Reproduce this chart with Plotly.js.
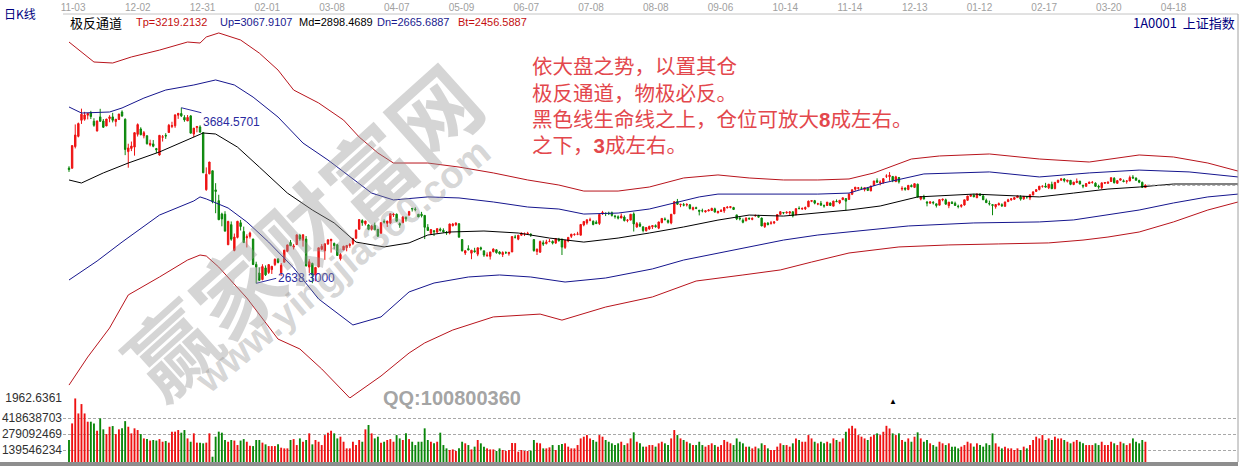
<!DOCTYPE html>
<html><head><meta charset="utf-8">
<script src="https://cdn.plot.ly/plotly-3.0.1.min.js"></script>
<style>html,body{margin:0;padding:0;background:#fff;overflow:hidden}#chart{width:1242px;height:466px}</style>
</head><body><div id="chart"></div>
<script>
// ---- tick labels (dates along the top) ----
const dateLabels = ['11-03','12-02','12-31','02-01','03-08','04-07','05-09','06-07','07-08','08-08','09-06','10-14','11-14','12-13','01-12','02-17','03-20','04-18'];

// ---- daily OHLC, 上证指数 ----
const open = [
3325,3324,3453,3514,3610,3616,3640,3656,3604,3546,3630,3605,3576,3620,3630,3602,3614,3659,3616,3423,
3442,3450,3526,3558,3517,3518,3463,3469,3441,3403,3509,3520,3537,3573,3577,3640,3650,3627,3606,3636,3528,3566,3570,
3536,3196,3291,3309,3195,3131,3051,3050,2868,2988,2834,2912,2999,2947,2910,2918,2902,2751,2700,2661,
2730,2703,2720,2750,2784,2701,2764,2829,2881,2854,2869,2923,2895,2902,2735,2757,
2688,2736,2841,2832,2873,2892,2876,2868,2784,2837,2851,2864,2876,2907,2960,3012,2993,2986,2961,2983,2960,2936,3007,
2996,2997,3046,3050,2994,2999,3032,3044,3085,3081,3050,3050,3043,2972,2936,2952,2944,2961,2954,2941,
2937,2982,2988,2993,2899,2819,2845,2818,2832,2812,2850,2832,2802,2799,2827,2838,2825,2810,2821,2815,2825,
2913,2901,2925,2933,2933,2932,2899,2828,2824,2880,2875,2888,2888,2878,2901,2902,2852,2890,2918,2928,
2931,2925,2986,2998,3015,3008,3002,2995,3052,3057,3056,3059,3039,3035,3027,3033,3013,3015,3052,2974,2992,
2975,2951,2962,2975,2982,2967,3000,3022,3012,2998,3052,3126,3106,3107,3105,3106,3079,3089,3074,3071,3064,3070,3072,
3082,3059,3066,3070,3088,3090,3090,3046,3027,3014,3011,3026,3019,3040,3038,3027,2976,2997,2996,2998,
3014,3049,3060,3058,3057,3064,3046,3085,3081,3082,3094,3127,3131,3111,3115,3101,
3102,3117,3098,3127,3117,3137,3143,3138,3169,3199,3204,3205,3197,3206,3189,3221,3250,3237,3239,3277,3274,3275,
3244,3269,3200,3206,3197,3221,3210,3229,3140,3153,3122,3116,3121,3112,3104,3135,3136,3101,3121,3115,3098,3097,
3105,3133,3157,3163,3148,3170,3159,3133,3114,3107,3095,3105,3107,3097,3125,3136,3139,3149,
3153,3142,3155,3147,3165,3186,3197,3216,3218,3207,3228,3203,3240,3253,3260,3246,3252,3227,
3239,3247,3222,3216,3233,3239,3235,3217,3208,3235,3235,3245,3264,3234,3253,3249,3246,3248,3271,3266,3251,3240,3209];
const high = [
3336,3459,3585,3596,3679,3660,3653,3666,3622,3607,3678,3617,3618,3640,3654,3617,3648,3669,3621,3470,
3483,3538,3591,3568,3546,3518,3494,3492,3445,3521,3522,3533,3588,3601,3643,3652,3684.5701,3640,3641,3639,3563,3573,3580,
3539,3329,3362,3309,3235,3166,3059,3068,3011,3007,2935,3010,3016,2976,2930,2946,2904,2767,2733,2752,
2745,2750,2740,2787,2785,2759,2838,2868,2896,2873,2928,2933,2929,2920,2782,2761,
2736,2850,2872,2874,2902,2902,2881,2873,2819,2862,2865,2878,2909,2960,3019,3020,3011,2990,2986,3000,2962,3001,3019,
3011,3053,3056,3054,3001,3039,3036,3070,3087,3091,3051,3064,3044,2991,2960,2954,2965,2970,2966,2950,
2993,2998,3002,2997,2902,2837,2865,2838,2850,2850,2857,2832,2823,2826,2846,2840,2830,2829,2829,2825,2917,
2927,2925,2941,2941,2945,2935,2899,2845,2893,2894,2898,2903,2894,2906,2909,2903,2895,2913,2933,2936,
2945,2989,3007,3018,3029,3013,3013,3050,3070,3059,3065,3066,3046,3043,3054,3043,3021,3050,3061,3004,3003,
2976,2972,2981,2983,2989,3005,3025,3031,3019,3050,3126,3141,3112,3117,3116,3110,3095,3095,3074,3083,3075,3080,3088,
3089,3070,3081,3090,3098,3097,3094,3046,3036,3025,3032,3030,3031,3048,3046,3030,2998,3003,3010,3009,
3048,3067,3063,3067,3068,3068,3085,3097,3091,3096,3131,3133,3135,3118,3129,3108,
3122,3119,3130,3138,3133,3148,3145,3172,3197,3212,3212,3214,3208,3210,3219,3249,3264,3252,3262,3288,3301,3278,
3279,3271,3217,3209,3222,3228,3234,3232,3158,3166,3129,3128,3128,3112,3138,3143,3143,3122,3128,3125,3107,3109,
3136,3160,3168,3172,3173,3175,3169,3143,3131,3110,3109,3120,3115,3125,3142,3144,3150,3161,
3163,3158,3158,3167,3187,3200,3218,3221,3237,3229,3244,3240,3254,3262,3265,3254,3254,3243,
3263,3249,3226,3234,3243,3248,3240,3226,3237,3241,3244,3268,3271,3254,3262,3257,3253,3280,3283,3268,3256,3244,3228];
const low = [
3302,3322,3442,3508,3588,3607,3615,3617,3571,3543,3600,3565,3575,3598,3597,3573,3612,3631,3402,3327,
3426,3399,3513,3520,3502,3465,3454,3449,3415,3399,3483,3499,3537,3563,3565,3618,3629,3601,3605,3533,3509,3538,3538,
3295,3190,3288,3115,3056,3016,2978,2949,2867,2892,2829,2906,2953,2880,2852,2905,2748,2638.3,2654,2656,
2682,2694,2694,2741,2757,2682,2764,2824,2861,2840,2869,2892,2857,2741,2700,2639,
2651,2734,2835,2778,2867,2821,2841,2804,2774,2836,2829,2850,2866,2904,2960,2981,2983,2955,2953,2956,2915,2936,2995,
2974,2991,3034,3007,2969,2999,3006,3044,3066,3068,3033,3031,2902,2952,2928,2920,2934,2947,2940,2927,
2930,2977,2980,2912,2828,2807,2836,2782,2821,2800,2834,2796,2797,2780,2823,2815,2810,2795,2813,2803,2825,
2905,2895,2921,2920,2928,2915,2827,2807,2820,2861,2870,2883,2870,2873,2887,2807,2843,2883,2908,2922,
2925,2925,2978,2988,3008,2984,2992,2986,3046,3039,3045,3036,3024,3019,3027,3007,3002,3013,2947,2969,2973,
2942,2948,2957,2962,2970,2961,2996,3013,2994,2990,3052,3105,3092,3097,3096,3078,3072,3080,3043,3061,3060,3067,3070,
3060,3054,3063,3058,3085,3085,3075,3015,3013,2996,3008,3016,3014,3036,3031,2979,2968,2984,2988,2991,
3014,3047,3050,3053,3046,3031,3046,3078,3076,3075,3094,3122,3109,3104,3101,3089,
3100,3101,3098,3123,3110,3134,3072,3138,3164,3189,3196,3198,3186,3188,3187,3218,3236,3222,3231,3266,3249,3241,
3243,3233,3190,3190,3193,3210,3206,3149,3133,3140,3097,3112,3108,3090,3103,3127,3107,3086,3112,3101,3085,3089,
3101,3130,3155,3151,3147,3160,3136,3117,3102,3044,3083,3104,3093,3095,3125,3130,3136,3147,
3131,3135,3142,3134,3163,3183,3192,3208,3210,3200,3200,3198,3235,3249,3240,3239,3223,3223,
3235,3228,3205,3215,3230,3232,3213,3201,3200,3230,3230,3243,3234,3232,3250,3240,3232,3247,3261,3251,3235,3206,3206];
const close = [
3316,3459,3522,3590,3646,3641,3650,3632,3580,3606,3604,3568,3617,3630,3610,3616,3647,3635,3436,3445,
3456,3536,3584,3524,3536,3470,3472,3455,3434,3520,3511,3516,3580,3578,3642,3651,3636,3612,3627,3533,3563,3573,3539,
3297,3288,3361,3125,3186,3017,3022,2949,3007,2901,2914,3008,2977,2881,2916,2938,2750,2735,2656,2738,
2689,2750,2740,2781,2763,2746,2836,2867,2862,2860,2927,2903,2928,2741,2767,2688,
2733,2850,2859,2874,2897,2901,2863,2804,2810,2859,2864,2870,2904,2955,3018,2999,3009,2960,2979,2957,2919,3000,3004,
3009,3053,3050,3008,2985,3034,3023,3066,3082,3078,3034,3042,2972,2953,2959,2946,2964,2954,2945,2938,
2992,2991,2997,2913,2832,2832,2837,2835,2827,2850,2843,2807,2806,2825,2843,2821,2815,2822,2821,2823,2917,
2913,2925,2938,2934,2936,2927,2833,2842,2887,2872,2885,2888,2878,2905,2892,2854,2895,2912,2931,2930,
2932,2989,3007,3017,3016,2989,2994,3049,3060,3054,3054,3043,3036,3027,3039,3012,3015,3050,2992,2994,2979,
2953,2971,2978,2982,2976,3004,3025,3018,3002,3050,3125,3110,3109,3104,3108,3084,3089,3085,3068,3070,3070,3075,3085,
3063,3067,3072,3090,3092,3095,3078,3022,3023,3002,3026,3023,3025,3042,3033,2980,2998,2988,2998,3004,
3048,3065,3058,3062,3064,3041,3083,3084,3084,3090,3128,3131,3116,3112,3104,3100,
3122,3102,3128,3125,3133,3148,3128,3171,3196,3211,3207,3205,3208,3192,3218,3248,3241,3241,3262,3277,3282,3250,
3273,3243,3204,3199,3222,3215,3232,3152,3155,3140,3117,3123,3118,3102,3137,3139,3110,3122,3114,3102,3096,3104,
3136,3158,3165,3154,3171,3161,3136,3119,3112,3103,3108,3113,3101,3123,3136,3142,3149,3159,
3140,3156,3153,3166,3183,3196,3217,3217,3212,3229,3202,3240,3253,3261,3251,3253,3228,3241,
3246,3230,3218,3233,3242,3240,3216,3212,3237,3239,3241,3268,3237,3250,3261,3245,3248,3269,3266,3252,3241,3210,3223];

// ---- volume, millions of lots ----
const volume = [
227,372,590,459,541,459,387,387,372,308,416,320,279,343,349,279,320,329,392,343,
285,329,314,279,241,235,222,227,222,235,212,218,204,300,300,314,291,314,241,212,285,204,204,
198,204,285,81,256,300,291,227,212,227,222,183,222,235,212,177,174,227,227,204,
189,174,174,174,189,160,154,154,227,235,183,241,212,227,285,189,
227,212,183,270,291,308,285,241,256,212,154,154,212,183,227,212,320,358,285,241,256,204,212,
227,235,212,270,241,227,285,235,212,183,212,212,329,227,212,198,212,291,183,154,
140,145,131,154,212,198,183,145,169,227,198,169,154,145,145,131,154,140,131,140,200,
200,125,140,131,131,134,227,204,198,154,154,163,183,140,183,192,198,169,154,154,
183,241,256,270,241,227,212,270,256,227,212,198,183,198,212,183,198,241,294,212,198,
169,169,183,183,169,198,212,198,183,241,314,270,241,227,212,198,183,183,212,183,169,183,198,
183,169,183,227,212,198,183,241,212,198,169,169,154,169,154,198,183,154,140,140,
169,198,183,183,169,198,241,227,212,212,270,241,212,198,212,198,
212,198,241,227,212,241,299,328,351,328,270,256,241,227,256,270,285,270,299,351,328,285,
270,285,227,212,241,212,256,294,241,212,227,198,183,169,212,198,183,198,169,169,154,169,
183,212,198,169,198,183,169,198,183,285,198,169,154,169,154,154,140,154,
140,169,154,183,227,256,241,270,227,241,227,256,241,241,227,212,198,212,
227,212,198,183,183,183,198,183,212,183,183,212,198,183,212,198,183,198,241,212,198,227,212];

// ---- 极反通道 lines (day index, value) ----
const tpIdx = [0,8,14,20,29,38,42,44,48,55,61,67,72,80,88,93,99,104,115,125,136,147,157,165,176,186,197,208,218,229,240,250,258,270,279,295,311,327,343,354,365,374.7];
const tpVal = [4076,3957,3951,3987,4028,4076,4070,4106,4130,4088,4010,3909,3790,3713,3611,3510,3415,3355,3355,3331,3296,3254,3224,3188,3188,3212,3266,3284,3266,3254,3254,3260,3296,3379,3397,3409,3379,3361,3403,3391,3355,3307];
const upIdx = [0,4,13,17,24,31,40,47,53,59,67,75,83,90,97,104,115,125,136,147,157,165,176,186,197,202,208,218,229,240,250,261,274,295,311,327,343,359,374.7];
const upVal = [3689,3653,3659,3683,3742,3790,3820,3850,3820,3748,3629,3474,3373,3272,3176,3135,3153,3147,3123,3093,3081,3051,3057,3081,3129,3153,3170,3170,3170,3170,3176,3236,3290,3302,3272,3296,3313,3302,3272];
const mdIdx = [0,4,11,19,29,38,43,47,54,61,70,78,85,92,101,109,115,122,133,144,154,165,176,186,197,208,218,229,240,250,260,272,290,311,322,333,343,354,374.7];
const mdVal = [3254,3236,3296,3355,3421,3492,3534,3528,3450,3331,3176,3075,2998,2884,2855,2879,2926,2944,2950,2938,2908,2884,2908,2938,2974,3015,3045,3039,3057,3075,3099,3153,3170,3153,3176,3200,3212,3230,3230];
const dnIdx = [0,9,17,29,40,42,44,51,57,64,72,80,91,100,109,117,128,138,148,159,172,187,197,208,218,229,240,250,269,290,311,322,333,343,354,365,374.7];
const dnVal = [2658,2771,2884,3045,3129,3153,3141,3087,3004,2884,2730,2545,2390,2438,2587,2640,2676,2688,2676,2646,2670,2724,2777,2819,2855,2896,2926,2944,2980,2998,3004,3016,3045,3075,3117,3153,3170];
const btIdx = [0,6,13,19,29,38,42,44,48,54,57,67,74,81,90,100,109,114,123,136,151,158,172,187,201,216,228,238,250,266,282,298,314,325,333,343,354,365,374.7];
const btVal = [2032,2199,2372,2569,2676,2777,2807,2801,2735,2610,2551,2306,2247,2128,1955,2086,2223,2283,2360,2438,2455,2419,2497,2557,2652,2688,2718,2765,2819,2855,2867,2873,2879,2896,2914,2944,3004,3075,3123];

// ---- texts ----
const panelTitle = '日K线';
const indicatorName = '极反通道';
const indicatorValues = ['Tp=3219.2132','Up=3067.9107','Md=2898.4689','Dn=2665.6887','Bt=2456.5887'];
const symbolText = '1A0001  上证指数';
const noteLines = ['依大盘之势，以置其仓','极反通道，物极必反。','黑色线生命线之上，仓位可放大8成左右。','之下，3成左右。'];
const volTickVals = [139.546234, 279.092469, 418.638703, 593];
const volTickText = ['139546234','279092469','418638703','1962.6361'];
const watermark1 = '赢家财富网';
const watermark2 = 'www.yingjia360.com';
const watermark3 = 'QQ:100800360';

// ================= drawing =================
const W = 1242, H = 466, ML = 63, MR = 4, MT = 14, MB = 4;
const PW = W - ML - MR, PH = H - MT - MB;
const px = x => (x - ML) / PW;          // pixel -> paper x
const py = y => (H - MB - y) / PH;      // pixel -> paper y
const X0 = -1.923, X1 = 374.68;

const idx = close.map((_, i) => i);
const RED = '#ee1111', GREEN = '#0a870a';
const volColors = close.map((c, i) => c >= open[i] ? RED : GREEN);

const CJK = '"Noto Sans CJK SC", "Noto Sans", sans-serif';
const SANS = '"Liberation Sans", Arial, sans-serif';
const MIX = '"Liberation Sans", "Noto Sans CJK SC", sans-serif';
const CH_RED = '#b8141c', CH_BLUE = '#16168e';

const lineTrace = (xs, ys, color) => ({type:'scatter', mode:'lines', x: xs, y: ys, xaxis:'x', yaxis:'y',
  line:{color: color, width:1}, hoverinfo:'skip', showlegend:false});

const N = close.length;
const lastClose = close[N - 1];

const traces = [
  lineTrace(tpIdx, tpVal, CH_RED),
  lineTrace(upIdx, upVal, CH_BLUE),
  lineTrace(mdIdx, mdVal, '#000000'),
  lineTrace(dnIdx, dnVal, CH_BLUE),
  lineTrace(btIdx, btVal, CH_RED),
  {type:'scatter', mode:'lines', x:[N - 1 + 0.6, X1], y:[lastClose, lastClose], xaxis:'x', yaxis:'y',
   line:{color:'#8a8a8a', width:1, dash:'3px,2px'}, hoverinfo:'skip', showlegend:false},
  {type:'candlestick', x: idx, open: open, high: high, low: low, close: close, xaxis:'x', yaxis:'y',
   increasing:{line:{color:RED, width:1}, fillcolor:RED},
   decreasing:{line:{color:GREEN, width:1}, fillcolor:GREEN},
   whiskerwidth:0, hoverinfo:'skip', showlegend:false},
  {type:'bar', x: idx, y: volume, xaxis:'x', yaxis:'y2', width:0.6,
   marker:{color: volColors, line:{width:0}}, hoverinfo:'skip', showlegend:false}
];

// extremes for the labels
let hiI = 0, loI = 0;
high.forEach((v, i) => { if (v > high[hiI]) hiI = i; });
low.forEach((v, i) => { if (v < low[loI]) loI = i; });

const ann = [];
ann.push({xref:'x', yref:'y', x: hiI, y: high[hiI], text: high[hiI].toFixed(4), showarrow:true, arrowhead:0,
  arrowwidth:1, arrowcolor:'#2a2aa0', ax:20, ay:5, xanchor:'left', yanchor:'top', standoff:0,
  font:{family:SANS, size:12, color:'#2a2aa0'}});
ann.push({xref:'x', yref:'y', x: loI, y: low[loI], text: low[loI].toFixed(4), showarrow:true, arrowhead:0,
  arrowwidth:1, arrowcolor:'#2a2aa0', ax:20, ay:-5, xanchor:'left', yanchor:'middle', standoff:0,
  font:{family:SANS, size:12, color:'#2a2aa0'}});

const T = (text, x, y, font, extra) => Object.assign({xref:'paper', yref:'paper', x: px(x), y: py(y), text: text,
  showarrow:false, xanchor:'left', yanchor:'middle', font: font}, extra || {});

ann.push(T(panelTitle, 2, 13, {family:CJK, size:12, color:'#000080'}));
ann.push(T(indicatorName, 68, 22, {family:CJK, size:13, color:'#000000'}));
const hdrX = [134, 218, 297, 375, 456];
const hdrC = ['#c41010', '#1a1a90', '#000000', '#1a1a90', '#c41010'];
indicatorValues.forEach((t, k) => ann.push(T(t, hdrX[k], 22, {family:SANS, size:11, color:hdrC[k]})));
ann.push(T(symbolText, 1237, 22, {family:CJK, size:13, color:'#000080'}, {xanchor:'right'}));
const noteY = [67, 93, 119, 145];
noteLines.forEach((t, k) => ann.push(T(t.replace(/(\d)/g, '<b>$1</b>'), 530, noteY[k],
  {family:MIX, size:20.5, color:'#e3474c'})));
ann.push(T('▲', 893, 401, {family:SANS, size:8, color:'#000000'}, {xanchor:'center'}));
// watermarks
ann.push(T(watermark1, 300, 228, {family:CJK, size:88, color:'rgba(150,150,150,0.40)', weight:'bold'},
  {xanchor:'center', textangle:-42}));
ann.push(T(watermark2, 342, 266, {family:SANS, size:38, color:'rgba(150,150,150,0.40)', weight:'bold'},
  {xanchor:'center', textangle:-40}));
ann.push(T(watermark3, 452, 398, {family:SANS, size:20, color:'rgba(140,140,140,0.8)', weight:'bold'},
  {xanchor:'center'}));

const tickStart = 1.3, tickStep = 20.75;
const layout = {
  width: W, height: H, margin:{l:ML, r:MR, t:MT, b:MB, pad:0},
  paper_bgcolor:'#ffffff', plot_bgcolor:'#ffffff', showlegend:false, hovermode:false,
  boxgap:0.55, boxgroupgap:0, bargap:0.4,
  xaxis:{type:'linear', range:[X0, X1], domain:[0,1], anchor:'y', side:'top',
    tickvals: dateLabels.map((_, k) => tickStart + k * tickStep), ticktext: dateLabels,
    tickfont:{family:SANS, size:10, color:'#a0a0a0'}, ticks:'', showgrid:false, zeroline:false,
    showline:false, rangeslider:{visible:false}, fixedrange:true},
  yaxis:{domain:[(H - MB - 399) / PH, 1], range:[1949, 4243], anchor:'x', visible:false, fixedrange:true},
  yaxis2:{domain:[0, (H - MB - 398) / PH], range:[34.9, 594], anchor:'x',
    tickvals: volTickVals, ticktext: volTickText, ticks:'', showgrid:true, gridcolor:'#a8a8a8',
    griddash:'3px,2px', gridwidth:1, zeroline:false, showline:false,
    tickfont:{family:SANS, size:12, color:'#303030'}, fixedrange:true},
  annotations: ann,
  shapes:[
    {type:'line', xref:'paper', yref:'paper', x0:0, x1:1, y0:1, y1:1, line:{color:'#c4c4c4', width:1}},
    {type:'line', xref:'paper', yref:'paper', x0:1, x1:1, y0:0, y1:1, line:{color:'#a0a0a0', width:1}},
    {type:'rect', xref:'paper', yref:'paper', x0:px(0), x1:px(1238), y0:py(466), y1:py(462),
     fillcolor:'#8e8e8e', line:{width:0}}
  ]
};

Plotly.newPlot('chart', traces, layout, {staticPlot:true, displayModeBar:false});
</script>
</body></html>
